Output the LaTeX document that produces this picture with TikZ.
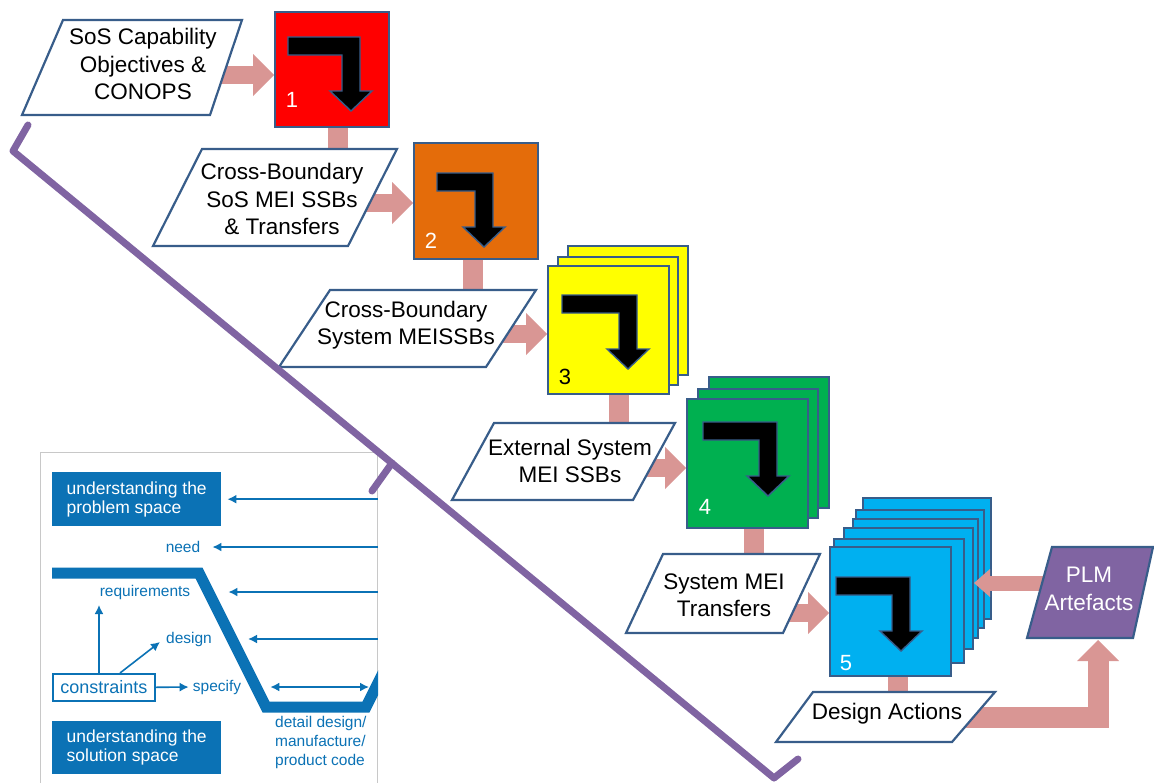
\documentclass[tikz,border=0pt]{standalone}
\usepackage{fontspec}
\setmainfont{Liberation Sans}
\usetikzlibrary{arrows.meta,calc}
\pgfdeclarelayer{bg}
\pgfdeclarelayer{fg}
\pgfsetlayers{bg,main,fg}

\definecolor{edge}{HTML}{385D8A}
\definecolor{flowpink}{HTML}{D99694}
\definecolor{plmpurple}{HTML}{8064A2}
\definecolor{stepred}{HTML}{FF0000}
\definecolor{steporange}{HTML}{E46C0A}
\definecolor{stepyellow}{HTML}{FFFF00}
\definecolor{stepgreen}{HTML}{00B050}
\definecolor{stepblue}{HTML}{00B0F0}
\definecolor{vblue}{HTML}{0B72B5}
\definecolor{framegrey}{HTML}{C8C8C8}

\tikzset{
  card/.style={draw=edge, line width=2pt, inner sep=0pt, anchor=north west},
  pframe/.style={draw=edge, line width=2.2pt, fill=white, line join=miter},
  ptext/.style={font=\fontsize{22.5}{27.5}\selectfont, align=center, inner sep=0pt},
  steplabel/.style={font=\fontsize{22}{26}\selectfont, inner sep=0pt},
  flow/.style={draw=flowpink, line width=18pt,
    -{Triangle[length=21pt,width=42pt,line width=0pt]}},
  link/.style={draw=flowpink, line width=20pt},
  pics/turn/.style={code={
    \path[draw=edge, fill=black, line width=1.4pt, line join=miter]
      (0,0) -- (#1,0) -- (#1,54) -- ({#1+12},54) -- ({#1-9},74)
      -- ({#1-30},54) -- ({#1-18},54) -- ({#1-18},18) -- (0,18) -- cycle;}},
  bracket/.style={draw=plmpurple, line width=7pt, line cap=round, line join=round},
  inframe/.style={draw=framegrey, line width=1pt, fill=white, inner sep=0pt, anchor=north west},
  inbox/.style={fill=vblue, text=white, font=\fontsize{17.5}{19}\selectfont,
    align=left, inner sep=0pt, anchor=north west},
  inlabel/.style={text=vblue, font=\fontsize{15.5}{19}\selectfont, inner sep=0pt},
  inarrow/.style={draw=vblue, line width=1.6pt, -{Latex[length=9pt,width=9pt]}},
}

\begin{document}
\begin{tikzpicture}[x=1pt,y=-1pt]
\useasboundingbox (0,0) rectangle (1154,782);

% ---------- V-model panel ----------
\node[inframe, minimum width=337pt, minimum height=340pt] (inset) at (40,452) {};
\begin{scope}
  \clip (inset.north west) rectangle (inset.south east);
  \draw[vblue, line width=11pt, line join=miter]
    (52,573) -- (199,573) -- (266,707) -- (366,707) -- (385,669);
  \node[inbox, minimum width=169pt, minimum height=54pt] (ups) at (52,472)
    {understanding the\\problem space};
  \node[inbox, minimum width=169pt, minimum height=53pt] (uss) at (52,721)
    {understanding the\\solution space};
  \node[inlabel] (need) at (183,547) {need};
  \node[inlabel] (req) at (145,592) {requirements};
  \node[inlabel] (des) at (189,639) {design};
  \node[inlabel] (spec) at (217,687) {specify};
  \node[draw=vblue, line width=1.6pt, fill=white, text=vblue,
    font=\fontsize{18}{20}\selectfont, minimum width=102pt, minimum height=27pt,
    inner sep=0pt, anchor=north west] (cons) at (52,673) {constraints};
  \node[inlabel, align=left, anchor=north west] (det) at (275,716)
    {detail design/\\manufacture/\\product code};
  \draw[inarrow] (inset.east |- ups.east) -- ([xshift=6pt]ups.east);
  \draw[inarrow] (inset.east |- need.east) -- ([xshift=12pt]need.east);
  \draw[inarrow] (inset.east |- req.east) -- ([xshift=38pt]req.east);
  \draw[inarrow] (inset.east |- des.east) -- ([xshift=36pt]des.east);
  \draw[inarrow, shorten >=4pt] (cons.east) -- (spec.west);
  \coordinate (dr) at (inset.east |- spec.east);
  \draw[draw=vblue, line width=1.6pt, {Latex[length=9pt,width=9pt]}-{Latex[length=9pt,width=9pt]}]
    ([xshift=29pt]spec.east) -- ([xshift=-9pt]dr);
  \draw[inarrow] ([xshift=47pt]cons.north west) -- ++(0,-68);
  \draw[inarrow] ([xshift=68pt]cons.north west) -- ++(40,-31);
\end{scope}

% ---------- step 1 ----------
\node[card, fill=stepred, minimum width=114pt, minimum height=115pt] (b1) at (274,11) {};
\pic at ($(b1.north west)+(14,26)$) {turn=72};
\node[steplabel, text=white] (n1) at ($(b1.north west)+(18,89)$) {1};

% ---------- step 2 ----------
\node[card, fill=steporange, minimum width=124pt, minimum height=116pt] (b2) at (413,142) {};
\pic at ($(b2.north west)+(24,31)$) {turn=56};
\node[steplabel, text=white] (n2) at ($(b2.north west)+(18,99)$) {2};

% ---------- step 3 (three sheets) ----------
\node[card, fill=stepyellow, minimum width=120pt, minimum height=129pt] (b3c) at (567,245) {};
\node[card, fill=stepyellow, minimum width=120pt, minimum height=128pt] (b3b) at (557,256) {};
\node[card, fill=stepyellow, minimum width=121pt, minimum height=128pt] (b3) at (547,265) {};
\pic at ($(b3.north west)+(15,30)$) {turn=75};
\node[steplabel, text=black] (n3) at ($(b3.north west)+(18,112)$) {3};

% ---------- step 4 (three sheets) ----------
\node[card, fill=stepgreen, minimum width=120pt, minimum height=131pt] (b4c) at (708,376) {};
\node[card, fill=stepgreen, minimum width=120pt, minimum height=129pt] (b4b) at (697,388) {};
\node[card, fill=stepgreen, minimum width=121pt, minimum height=129pt] (b4) at (686,398) {};
\pic at ($(b4.north west)+(17,24)$) {turn=74};
\node[steplabel, text=white] (n4) at ($(b4.north west)+(19,109)$) {4};

% ---------- step 5 (six sheets) ----------
\node[card, fill=stepblue, minimum width=128pt, minimum height=121pt] (b5f) at (862,497) {};
\node[card, fill=stepblue, minimum width=128pt, minimum height=118pt] (b5e) at (855,509) {};
\node[card, fill=stepblue, minimum width=125pt, minimum height=119pt] (b5d) at (852,518) {};
\node[card, fill=stepblue, minimum width=129pt, minimum height=121pt] (b5c) at (843,527) {};
\node[card, fill=stepblue, minimum width=130pt, minimum height=124pt] (b5b) at (833,538) {};
\node[card, fill=stepblue, minimum width=121pt, minimum height=129pt] (b5) at (829,546) {};
\pic at ($(b5.north west)+(7,31)$) {turn=74};
\node[steplabel, text=white] (n5) at ($(b5.north west)+(17,117)$) {5};

% ---------- inputs and outputs ----------
\draw[pframe] (63,20) -- (242,20) -- (210,115) -- (22,115) -- cycle;
\node[ptext] (p1) at (143,64) {SoS Capability\\Objectives \&\\CONOPS};

\draw[pframe] (202,149) -- (397,149) -- (348,246) -- (153,246) -- cycle;
\node[ptext] (p2) at (282,199) {Cross-Boundary\\SoS MEI SSBs\\\& Transfers};

\draw[pframe] (330,290) -- (536,290) -- (486,367) -- (279,367) -- cycle;
\node[ptext] (p3) at (406,325) {Cross-Boundary\\System MEISSBs};

\draw[pframe] (494,423) -- (675,423) -- (633,500) -- (452,500) -- cycle;
\node[ptext] (p4) at (570,461) {External System\\MEI SSBs};

\draw[pframe] (663,554) -- (820,554) -- (783,633) -- (626,633) -- cycle;
\node[ptext] (p5) at (724,595) {System MEI\\Transfers};

\draw[pframe] (813,692) -- (995,692) -- (952,742) -- (776,742) -- cycle;
\node[ptext] (p6) at (887,714) {Design Actions};

\begin{pgfonlayer}{fg}
  \draw[pframe, fill=plmpurple] (1052,547) -- (1153,547) -- (1133,638) -- (1027,638) -- cycle;
  \node[ptext, text=white] (plm) at (1089,589) {PLM\\Artefacts};
\end{pgfonlayer}

% ---------- flows between steps ----------
\begin{pgfonlayer}{bg}
  \coordinate (f1) at ($(p1.center)+(0,11)$);
  \draw[flow] (f1) -- (f1 -| b1.west);
  \coordinate (f2) at ($(p2.center)+(0,4)$);
  \draw[flow] (f2) -- (f2 -| b2.west);
  \coordinate (f3) at ($(p3.center)+(0,9)$);
  \draw[flow] (f3) -- (f3 -| b3.west);
  \coordinate (f4) at ($(p4.center)+(0,7)$);
  \draw[flow] (f4) -- (f4 -| b4.west);
  \coordinate (f5) at ($(p5.center)+(0,18)$);
  \draw[flow] (f5) -- (f5 -| b5.west);

  \coordinate (l1) at ($(b1.center)+(6,0)$);
  \draw[link] (l1) -- (l1 |- p2.center);
  \coordinate (l2) at ($(b2.center)+(-3,0)$);
  \draw[link] (l2) -- (l2 |- p3.center);
  \coordinate (l3) at ($(b3.center)+(10,0)$);
  \draw[link] (l3) -- (l3 |- p4.center);
  \coordinate (l4) at ($(b4.center)+(6.5,0)$);
  \draw[link] (l4) -- (l4 |- p5.center);
  \coordinate (l5) at ($(b5.center)+(7.5,0)$);
  \draw[link] (l5) -- (l5 |- p6.center);

  \coordinate (f6) at ($(p6.center)+(0,3)$);
  \coordinate (f7) at ($(plm.center)+(9,51)$);
  \draw[flow, line width=21pt, line join=miter] (f6) -| (f7);
\end{pgfonlayer}

% PLM artefacts feed back into step 5
\coordinate (f8) at ($(plm.center)+(-40,-6)$);
\draw[flow, line width=15pt, -{Triangle[length=16pt,width=28pt,line width=0pt]}]
  (f8) -- (f8 -| b5c.east);

% ---------- bracket ----------
\draw[bracket] (28,125) -- (13,151) -- (774,778) -- (798,759);
\draw[bracket] (392,463) -- (372,491);
\end{tikzpicture}
\end{document}
